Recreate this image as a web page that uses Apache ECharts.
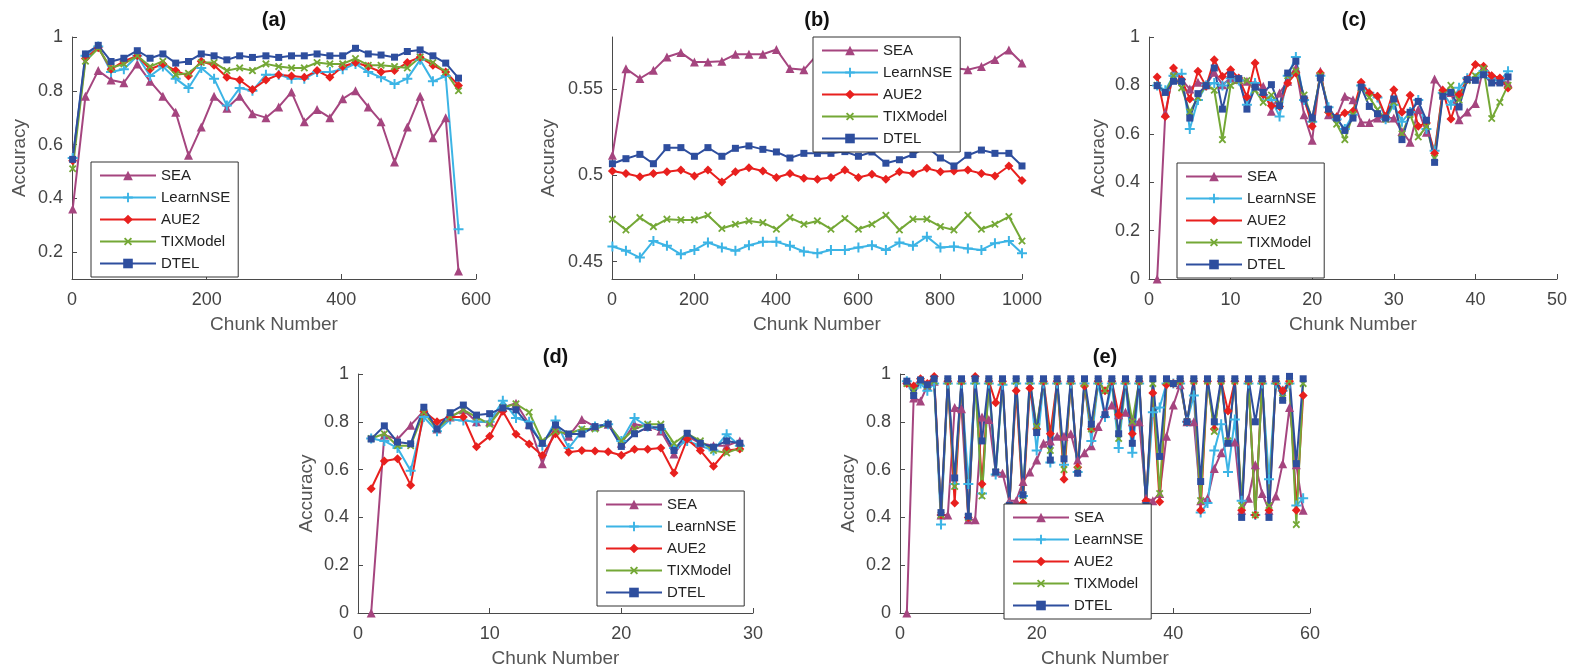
<!DOCTYPE html>
<html>
	<head>
		<meta charset="utf-8" />
		<title>Accuracy per chunk</title>
		<script src="https://cdn.jsdelivr.net/npm/echarts@6/dist/echarts.min.js"></script>
		<style>
			html, body { margin: 0; padding: 0; background: #fff; }
			#main { width: 1570px; height: 669px; }
		</style>
	</head>
	<body>
		<div id="main"></div>
		<script type="text/javascript">
			// series names and look
			var names = ['SEA', 'LearnNSE', 'AUE2', 'TIXModel', 'DTEL'];
			var colors = ['#A5457F', '#3CB4E5', '#E8201E', '#74A836', '#2E4E9E'];

			// (a)
			var aChunks = [1,20,39,58,77,97,116,135,154,173,192,211,230,249,268,288,307,326,345,364,383,402,421,440,459,479,498,517,536,555,574];
			var aSEA = [0.36,0.78,0.875,0.84,0.83,0.90,0.835,0.78,0.72,0.56,0.665,0.78,0.735,0.78,0.715,0.70,0.74,0.795,0.685,0.73,0.70,0.77,0.80,0.74,0.685,0.535,0.665,0.78,0.625,0.70,0.13];
			var aLearnNSE = [0.55,0.93,0.965,0.87,0.88,0.93,0.855,0.89,0.845,0.81,0.885,0.845,0.745,0.81,0.80,0.86,0.86,0.845,0.845,0.87,0.87,0.88,0.90,0.87,0.85,0.825,0.845,0.915,0.835,0.855,0.285];
			var aAUE2 = [0.54,0.92,0.96,0.88,0.91,0.93,0.88,0.90,0.875,0.855,0.91,0.895,0.85,0.84,0.805,0.84,0.86,0.855,0.85,0.875,0.85,0.89,0.905,0.89,0.87,0.875,0.905,0.925,0.895,0.87,0.82];
			var aTIX = [0.51,0.91,0.958,0.885,0.90,0.93,0.89,0.91,0.86,0.865,0.905,0.905,0.875,0.885,0.875,0.90,0.89,0.885,0.885,0.905,0.90,0.90,0.92,0.895,0.895,0.89,0.885,0.925,0.905,0.87,0.80];
			var aDTEL = [0.545,0.937,0.969,0.909,0.921,0.949,0.921,0.937,0.903,0.909,0.937,0.93,0.915,0.93,0.924,0.93,0.924,0.93,0.93,0.937,0.93,0.93,0.958,0.937,0.933,0.925,0.946,0.952,0.93,0.903,0.847];

			// (b)
			var bChunks = [1,34,68,101,134,168,201,234,268,301,334,368,401,434,468,501,534,568,601,634,668,701,734,768,801,834,868,901,934,968,1000];
			var bSEA = [0.5116,0.5617,0.556,0.5607,0.5684,0.571,0.5655,0.5655,0.566,0.570,0.570,0.570,0.5728,0.5618,0.561,0.570,0.568,0.566,0.569,0.565,0.567,0.564,0.566,0.562,0.565,0.562,0.561,0.563,0.567,0.5725,0.565];
			var bLearnNSE = [0.4588,0.4563,0.4524,0.462,0.4592,0.4543,0.4568,0.4611,0.4582,0.4563,0.4595,0.4615,0.4615,0.4592,0.4559,0.4549,0.4568,0.4568,0.4582,0.4595,0.4568,0.4611,0.4592,0.4645,0.4582,0.4588,0.4576,0.4568,0.4607,0.462,0.4549];
			var bAUE2 = [0.5025,0.501,0.4992,0.501,0.502,0.503,0.4996,0.503,0.4961,0.502,0.5044,0.5025,0.4987,0.501,0.4983,0.4977,0.4987,0.503,0.4987,0.5006,0.4977,0.502,0.501,0.504,0.502,0.5025,0.503,0.501,0.4996,0.5054,0.497];
			var bTIX = [0.4746,0.4684,0.4755,0.4703,0.4746,0.4742,0.4742,0.4769,0.4692,0.4717,0.4736,0.4726,0.4688,0.4755,0.4717,0.4736,0.4688,0.475,0.4688,0.4717,0.4769,0.4684,0.4746,0.4746,0.4703,0.4684,0.4769,0.4688,0.4717,0.4761,0.462];
			var bDTEL = [0.5067,0.5096,0.5121,0.5067,0.516,0.516,0.511,0.516,0.511,0.5156,0.517,0.515,0.5135,0.51,0.5127,0.5127,0.5127,0.5137,0.511,0.5135,0.507,0.509,0.512,0.5164,0.51,0.5054,0.5116,0.5146,0.5127,0.5127,0.5054];

			// (c) chunks 1..44
			var cSEA = [0,0.686,0.854,0.824,0.785,0.813,0.803,0.854,0.803,0.831,0.824,0.817,0.81,0.796,0.693,0.769,0.817,0.872,0.679,0.573,0.858,0.679,0.672,0.755,0.741,0.647,0.647,0.665,0.665,0.665,0.61,0.565,0.70,0.606,0.826,0.782,0.771,0.658,0.69,0.725,0.877,0.84,0.82,0.81];
			var cLearnNSE = [0.80,0.78,0.84,0.848,0.62,0.74,0.80,0.81,0.80,0.83,0.82,0.72,0.81,0.76,0.74,0.672,0.84,0.917,0.74,0.65,0.84,0.71,0.66,0.62,0.68,0.80,0.77,0.75,0.66,0.72,0.65,0.69,0.74,0.62,0.53,0.77,0.72,0.79,0.83,0.83,0.86,0.83,0.82,0.858];
			var cAUE2 = [0.835,0.672,0.872,0.824,0.744,0.858,0.796,0.906,0.837,0.865,0.831,0.752,0.893,0.762,0.716,0.713,0.81,0.851,0.748,0.631,0.851,0.689,0.669,0.686,0.693,0.813,0.769,0.755,0.672,0.782,0.689,0.759,0.631,0.645,0.52,0.78,0.661,0.762,0.824,0.886,0.879,0.84,0.831,0.789];
			var cTIX = [0.80,0.77,0.84,0.79,0.69,0.75,0.80,0.78,0.576,0.80,0.82,0.82,0.78,0.73,0.76,0.72,0.84,0.86,0.76,0.66,0.84,0.70,0.64,0.576,0.68,0.79,0.75,0.70,0.66,0.73,0.60,0.68,0.587,0.63,0.50,0.76,0.80,0.74,0.82,0.84,0.87,0.663,0.73,0.80];
			var cDTEL = [0.799,0.771,0.817,0.817,0.665,0.766,0.799,0.872,0.702,0.844,0.828,0.702,0.793,0.771,0.803,0.716,0.851,0.90,0.744,0.665,0.831,0.702,0.665,0.614,0.665,0.793,0.713,0.683,0.665,0.744,0.576,0.689,0.734,0.656,0.482,0.755,0.771,0.711,0.824,0.821,0.844,0.81,0.81,0.835];

			// (d) chunks 1..29
			var dSEA = [0,0.745,0.727,0.786,0.845,0.77,0.82,0.85,0.80,0.80,0.86,0.878,0.79,0.625,0.77,0.74,0.81,0.78,0.79,0.71,0.79,0.78,0.762,0.665,0.74,0.71,0.70,0.70,0.72];
			var dLearnNSE = [0.73,0.72,0.69,0.595,0.82,0.76,0.81,0.805,0.80,0.80,0.888,0.816,0.80,0.70,0.805,0.69,0.76,0.78,0.79,0.72,0.816,0.78,0.77,0.69,0.72,0.70,0.68,0.748,0.70];
			var dAUE2 = [0.52,0.636,0.645,0.535,0.844,0.80,0.82,0.82,0.696,0.74,0.844,0.748,0.707,0.659,0.75,0.673,0.68,0.678,0.675,0.66,0.685,0.685,0.69,0.586,0.727,0.68,0.614,0.68,0.686];
			var dTIX = [0.73,0.75,0.70,0.70,0.84,0.77,0.82,0.85,0.82,0.79,0.86,0.875,0.84,0.72,0.76,0.75,0.77,0.77,0.79,0.72,0.77,0.79,0.79,0.71,0.75,0.72,0.68,0.67,0.69];
			var dDTEL = [0.728,0.783,0.715,0.708,0.861,0.77,0.838,0.87,0.828,0.834,0.858,0.85,0.783,0.71,0.787,0.749,0.749,0.78,0.79,0.697,0.75,0.777,0.777,0.68,0.752,0.71,0.694,0.72,0.71];

			// (e) chunks 1..59
			var eSEA = [0,0.90,0.887,0.95,0.97,0.41,0.41,0.86,0.855,0.39,0.39,0.82,0.81,0.59,0.585,0.47,0.47,0.55,0.59,0.64,0.71,0.72,0.74,0.74,0.75,0.64,0.67,0.70,0.78,0.84,0.87,0.83,0.84,0.80,0.80,0.48,0.47,0.50,0.74,0.87,0.955,0.80,0.80,0.47,0.48,0.605,0.67,0.72,0.715,0.43,0.48,0.62,0.50,0.43,0.49,0.625,0.86,0.62,0.43];
			var eLearnNSE = [0.97,0.94,0.96,0.93,0.96,0.37,0.96,0.54,0.96,0.54,0.96,0.50,0.96,0.58,0.955,0.45,0.96,0.49,0.96,0.68,0.96,0.63,0.96,0.62,0.96,0.59,0.96,0.72,0.96,0.82,0.96,0.69,0.96,0.67,0.96,0.45,0.84,0.86,0.96,0.96,0.96,0.80,0.91,0.42,0.46,0.68,0.79,0.59,0.81,0.47,0.96,0.41,0.96,0.56,0.96,0.93,0.96,0.45,0.48];
			var eAUE2 = [0.96,0.95,0.98,0.96,0.99,0.41,0.97,0.46,0.97,0.40,0.99,0.54,0.97,0.88,0.97,0.45,0.93,0.46,0.94,0.77,0.97,0.75,0.97,0.56,0.97,0.61,0.95,0.77,0.97,0.93,0.97,0.83,0.97,0.75,0.97,0.47,0.92,0.465,0.955,0.96,0.97,0.80,0.97,0.43,0.97,0.77,0.97,0.845,0.97,0.43,0.97,0.41,0.97,0.43,0.97,0.93,0.97,0.43,0.91];
			var eTIX = [0.96,0.93,0.97,0.95,0.97,0.41,0.97,0.53,0.97,0.40,0.97,0.49,0.97,0.59,0.97,0.45,0.97,0.49,0.97,0.78,0.97,0.68,0.97,0.60,0.97,0.60,0.96,0.77,0.97,0.93,0.97,0.73,0.97,0.80,0.97,0.45,0.96,0.50,0.97,0.96,0.97,0.80,0.97,0.47,0.97,0.76,0.97,0.72,0.97,0.45,0.97,0.41,0.97,0.45,0.97,0.90,0.97,0.37,0.96];
			var eDTEL = [0.97,0.91,0.975,0.955,0.98,0.42,0.98,0.565,0.98,0.405,0.98,0.72,0.98,0.59,0.98,0.45,0.98,0.495,0.98,0.755,0.98,0.64,0.98,0.645,0.98,0.585,0.98,0.79,0.98,0.83,0.98,0.75,0.98,0.71,0.98,0.45,0.98,0.655,0.98,0.96,0.98,0.80,0.98,0.55,0.98,0.80,0.98,0.71,0.98,0.40,0.98,0.80,0.98,0.40,0.98,0.89,0.99,0.625,0.98];

			// tick values
			var aYTicks = [0.2, 0.4, 0.6, 0.8, 1];
			var bYTicks = [0.45, 0.5, 0.55];
			var unitYTicks = [0, 0.2, 0.4, 0.6, 0.8, 1];

			function seq(values) {
				var out = [];
				for (var i = 0; i < values.length; i++) out.push(i + 1);
				return out;
			}

			var plusPath = 'path://M4,0L6,0L6,4L10,4L10,6L6,6L6,10L4,10L4,6L0,6L0,4L4,4Z';
			var symbols = [
				{symbol: 'triangle', size: 9, rotate: 0},
				{symbol: plusPath, size: 10, rotate: 0},
				{symbol: 'diamond', size: 9, rotate: 0},
				{symbol: plusPath, size: 9, rotate: 45},
				{symbol: 'rect', size: 7, rotate: 0}
			];

			var panels = [
				{title: '(a)', x: aChunks, v: [aSEA, aLearnNSE, aAUE2, aTIX, aDTEL],
				 grid: [72, 37, 404, 242], xr: [0, 600, 200], yr: [0.1, 1], yt: aYTicks, legend: [91, 162], nameGap: 43},
				{title: '(b)', x: bChunks, v: [bSEA, bLearnNSE, bAUE2, bTIX, bDTEL],
				 grid: [612, 37, 410, 242], xr: [0, 1000, 200], yr: [0.44, 0.58], yt: bYTicks, legend: [813, 37], nameGap: 54},
				{title: '(c)', x: seq(cSEA), v: [cSEA, cLearnNSE, cAUE2, cTIX, cDTEL],
				 grid: [1149, 37, 410, 242], xr: [0, 50, 10], yr: [0, 1], yt: unitYTicks, legend: [1177, 163], nameGap: 41},
				{title: '(d)', x: seq(dSEA), v: [dSEA, dLearnNSE, dAUE2, dTIX, dDTEL],
				 grid: [358, 374, 395, 243], xr: [0, 30, 10], yr: [0, 1], yt: unitYTicks, legend: [597, 491], nameGap: 42},
				{title: '(e)', x: seq(eSEA), v: [eSEA, eLearnNSE, eAUE2, eTIX, eDTEL],
				 grid: [900, 374, 410, 243], xr: [0, 60, 20], yr: [0, 1], yt: unitYTicks, legend: [1004, 504], nameGap: 42}
			];

			var font = 'Liberation Sans, Arial, sans-serif';
			var axisColor = '#4a4a4a';
			var option = {
				animation: false,
				backgroundColor: '#fff',
				grid: [], xAxis: [], yAxis: [], series: [], legend: [], graphic: []
			};

			panels.forEach(function (p, k) {
				var g = p.grid;
				option.grid.push({left: g[0], top: g[1], width: g[2], height: g[3], containLabel: false});
				option.graphic.push({
					type: 'text', x: g[0] + g[2] / 2, y: g[1] - 17,
					style: {text: p.title, font: 'bold 20px ' + font, fill: '#111', textAlign: 'center', textVerticalAlign: 'middle'}
				});
				option.xAxis.push({
					gridIndex: k, type: 'value', min: p.xr[0], max: p.xr[1], interval: p.xr[2],
					name: 'Chunk Number', nameLocation: 'middle', nameGap: 36,
					nameTextStyle: {fontSize: 19, color: '#555', fontFamily: font},
					axisLine: {onZero: false, lineStyle: {color: axisColor, width: 1}},
					axisTick: {inside: true, length: 5, lineStyle: {color: axisColor}},
					axisLabel: {fontSize: 18, color: '#444', fontFamily: font, margin: 12,
						formatter: function (v) { return String(v); }},
					splitLine: {show: false}
				});
				option.yAxis.push({
					gridIndex: k, type: 'value', min: p.yr[0], max: p.yr[1],
					name: 'Accuracy', nameLocation: 'middle', nameGap: p.nameGap, nameRotate: 90,
					nameTextStyle: {fontSize: 19, color: '#555', fontFamily: font},
					axisLine: {onZero: false, lineStyle: {color: axisColor, width: 1}},
					axisTick: {inside: true, length: 5, lineStyle: {color: axisColor}, customValues: p.yt},
					axisLabel: {fontSize: 18, color: '#444', fontFamily: font, margin: 9, customValues: p.yt},
					splitLine: {show: false}
				});
				names.forEach(function (name, j) {
					option.series.push({
						type: 'line', name: name, xAxisIndex: k, yAxisIndex: k,
						data: p.x.map(function (x, i) { return [x, p.v[j][i]]; }),
						symbol: symbols[j].symbol, symbolSize: symbols[j].size, symbolRotate: symbols[j].rotate,
						showAllSymbol: true,
						color: colors[j],
						lineStyle: {width: 2, color: colors[j]},
						itemStyle: {color: colors[j]}
					});
				});
				option.legend.push({
					data: names, orient: 'vertical', left: p.legend[0], top: p.legend[1],
					backgroundColor: '#fff', borderColor: '#333', borderWidth: 1,
					padding: [6, 8, 6, 8], itemGap: 7, itemWidth: 56, itemHeight: 12,
					selectedMode: false,
					textStyle: {fontSize: 15, color: '#222', fontFamily: font, lineHeight: 15}
				});
			});

			var myChart = echarts.init(document.getElementById('main'));
			myChart.setOption(option);
		</script>
	</body>
</html>
